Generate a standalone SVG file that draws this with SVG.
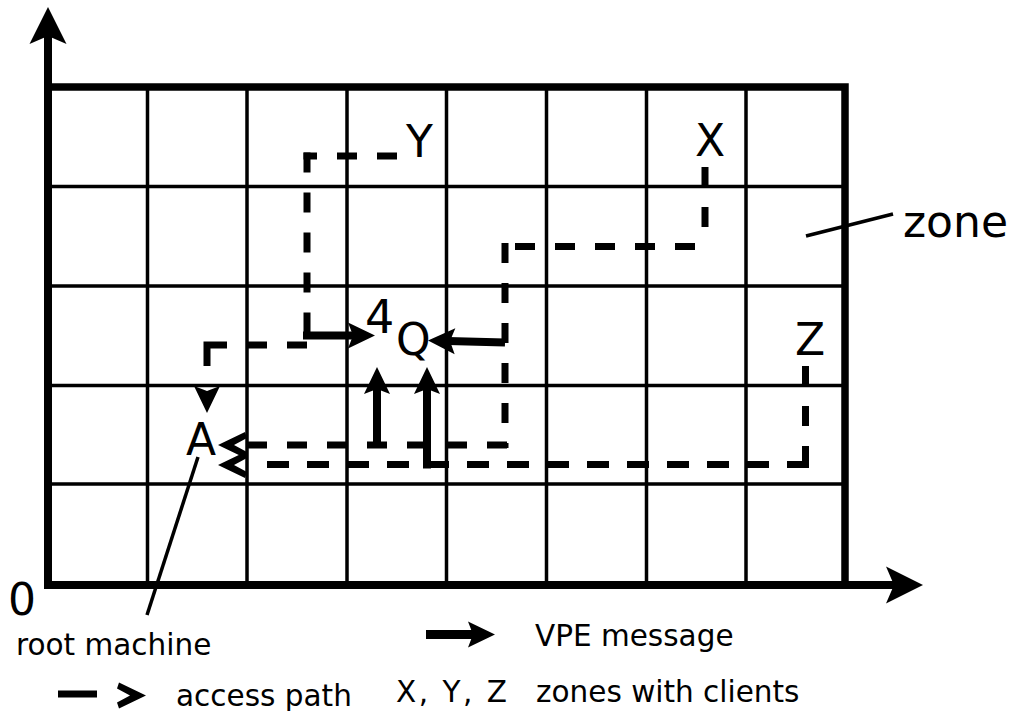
<svg xmlns="http://www.w3.org/2000/svg" xmlns:xlink="http://www.w3.org/1999/xlink" width="1011" height="711" viewBox="0 0 1011 711">
  <style>
    text { font-family: "DejaVu Sans", "Bitstream Vera Sans", sans-serif; fill: #000; }
    .big { font-size: 44px; }
    .leg { font-size: 29.5px; }
    .frame { fill: none; stroke: #000; stroke-width: 7.5; }
    .grid { fill: none; stroke: #000; stroke-width: 3.5; }
    .dash { fill: none; stroke: #000; stroke-width: 7; stroke-dasharray: 20 20; stroke-linejoin: miter; }
    .msg { fill: none; stroke: #000; stroke-width: 8; marker-end: url(#vpe); }
    .axis { fill: none; stroke: #000; stroke-width: 8; marker-end: url(#axisHead); }
    .leader { fill: none; stroke: #000; stroke-width: 3.5; }
  </style>
  <defs>
    <!-- filled arrowhead, tip at origin, pointing along +x -->
    <path id="head" d="M0,0 L-27,-13 L-22,0 L-27,13 Z"/>
    <!-- thick chevron used at the end of an access path -->
    <path id="chev" d="M0,0 L-27,-13 L-29,-7 L-16,0 L-29,7 L-27,13 Z"/>
    <marker id="vpe" viewBox="-30 -15 32 30" refX="-20" refY="0" markerWidth="32" markerHeight="30" markerUnits="userSpaceOnUse" orient="auto">
      <use xlink:href="#head"/>
    </marker>
    <marker id="axisHead" viewBox="-40 -20 42 40" refX="-25" refY="0" markerWidth="42" markerHeight="40" markerUnits="userSpaceOnUse" orient="auto">
      <path d="M0,0 L-37,-18.5 L-29,0 L-37,18.5 Z"/>
    </marker>
  </defs>

  <rect x="0" y="0" width="1011" height="711" fill="#fff"/>

  <!-- zone grid -->
  <g id="grid">
    <path class="grid" d="M147.5,87 V585 M247,87 V585 M347,87 V585 M446.5,87 V585 M546.5,87 V585 M646.5,87 V585 M746,87 V585"/>
    <path class="grid" d="M48,186.5 H845 M48,286 H845 M48,385.5 H845 M48,484 H845"/>
    <path class="frame" d="M44.5,87 H845 V585"/>
  </g>

  <!-- coordinate axes -->
  <g id="axes">
    <path class="axis" d="M48,589 V32"/>
    <path class="axis" d="M44,585 H898"/>
  </g>

  <g id="connectors">
    <!-- access path from Y -->
    <path class="dash" d="M397,156 H303.5"/>
    <path class="dash" d="M307,152.5 V336"/>
    <path class="msg" d="M303,335.5 H355"/>
    <path class="dash" style="stroke-dasharray:20 20 20 20 41 20" d="M307,345 H207 V366"/>
    <use xlink:href="#head" transform="translate(207,413) rotate(90)"/>

    <!-- access path from X -->
    <path class="dash" d="M705,167 V246"/>
    <path class="dash" d="M695,246.5 H512"/>
    <path class="dash" d="M505,243 V448"/>
    <path class="dash" d="M507,445 H247"/>
    <use xlink:href="#chev" transform="translate(218,445) scale(-1,1)"/>
    <path class="msg" d="M505,342.5 L448,341"/>

    <!-- access path from Z -->
    <path class="dash" d="M805.5,366 V464"/>
    <path class="dash" style="stroke-dasharray:22 18" d="M809,464.5 H249"/>
    <use xlink:href="#chev" transform="translate(218,465) scale(-1,1)"/>

    <!-- VPE messages towards Q -->
    <path class="msg" d="M377,448 V387"/>
    <path class="msg" d="M427,468.5 V387"/>

    <!-- label leaders -->
    <path class="leader" d="M806,236 L893,214"/>
    <path class="leader" d="M198,457 L147,615"/>
  </g>

  <g id="node-Y"><text class="big" x="406" y="157">Y</text></g>
  <g id="node-X"><text class="big" x="695" y="156">X</text></g>
  <g id="node-Z"><text class="big" x="795" y="355">Z</text></g>
  <g id="node-Q">
    <text x="365" y="333" style="font-size:46px">4</text>
    <text class="big" x="396" y="355">Q</text>
  </g>
  <g id="node-A"><text class="big" x="186" y="455">A</text></g>
  <g id="label-zone"><text class="big" x="903" y="237">zone</text></g>
  <g id="label-origin"><text class="big" x="8" y="615">0</text></g>

  <g id="legend">
    <text class="leg" x="16" y="655">root machine</text>
    <path d="M426,634.5 H475" class="msg" style="stroke-width:9"/>
    <text class="leg" x="535" y="646">VPE message</text>
    <path d="M58,694 H97" fill="none" stroke="#000" stroke-width="7"/>
    <use xlink:href="#chev" transform="translate(146,695.5)"/>
    <text class="leg" x="176" y="706">access path</text>
    <text class="leg" x="396" y="702" textLength="111" lengthAdjust="spacing">X, Y, Z</text>
    <text class="leg" x="536" y="702">zones with clients</text>
  </g>
</svg>
